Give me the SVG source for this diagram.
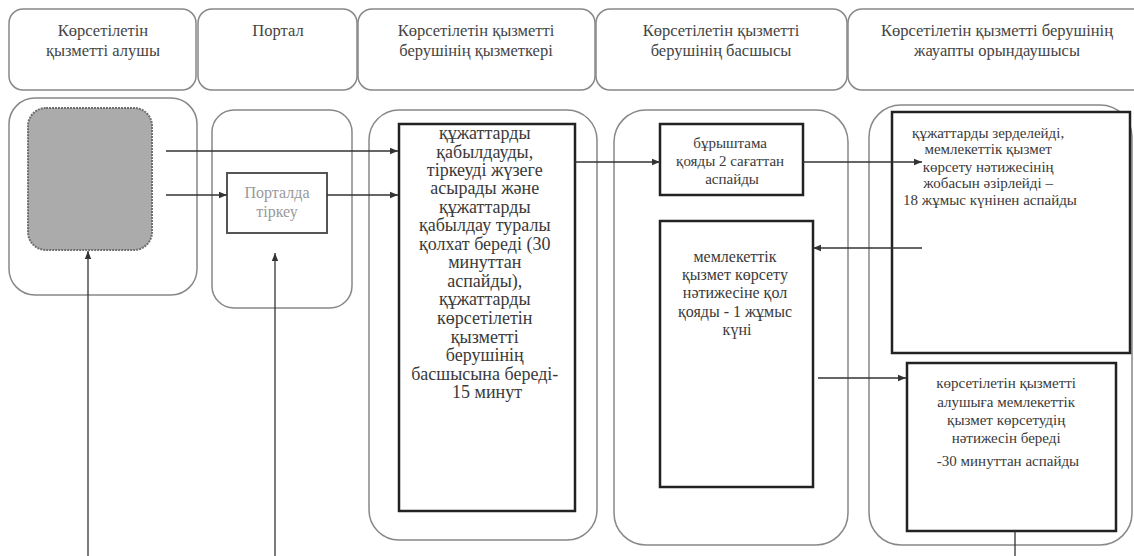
<svg xmlns="http://www.w3.org/2000/svg" width="1134" height="556" viewBox="0 0 1134 556">
<defs>
<marker id="ah" viewBox="0 0 10 10" refX="10" refY="5" markerWidth="8" markerHeight="8" markerUnits="userSpaceOnUse" orient="auto">
<path d="M0,1 L10,5 L0,9 z" fill="#333"/>
</marker>
</defs>
<style>
.hdr{fill:#fff;stroke:#888;stroke-width:1.5}
.lane{fill:#fff;stroke:#888;stroke-width:1.5}
.box{fill:#fff;stroke:#222;stroke-width:2.5}
.ht{font-family:"Liberation Serif","Times New Roman",serif;font-size:16.5px;fill:#444;text-anchor:middle}
.bt{font-family:"Liberation Serif","Times New Roman",serif;font-size:15px;fill:#3a3a3a;text-anchor:middle}
.big{font-size:18px}
.mid{font-size:16px}
.conn{stroke:#333;stroke-width:1.3;fill:none}
</style>
<rect width="1134" height="556" fill="#fff"/>
<g id="headers">
<rect class="hdr" x="9" y="9" width="187" height="81" rx="14"/>
<rect class="hdr" x="198" y="9" width="159" height="81" rx="14"/>
<rect class="hdr" x="358" y="9" width="237" height="81" rx="14"/>
<rect class="hdr" x="596" y="9" width="251" height="81" rx="14"/>
<rect class="hdr" x="848" y="9" width="300" height="81" rx="14"/>
<text class="ht" x="103" y="36">Көрсетілетін</text>
<text class="ht" x="103" y="56">қызметті алушы</text>
<text class="ht" x="278" y="36">Портал</text>
<text class="ht" x="476" y="36">Көрсетілетін қызметті</text>
<text class="ht" x="476" y="56">берушінің қызметкері</text>
<text class="ht" x="721" y="36">Көрсетілетін қызметті</text>
<text class="ht" x="721" y="56">берушінің басшысы</text>
<text class="ht" x="997" y="36">Көрсетілетін қызметті берушінің</text>
<text class="ht" x="997" y="56">жауапты орындаушысы</text>
</g>
<g id="lane1">
<rect class="lane" x="9" y="98" width="188" height="197" rx="26"/>
<rect x="28" y="108" width="124" height="142" rx="18" fill="#ababab" stroke="#6f6f6f" stroke-width="2" stroke-dasharray="2 1"/>
</g>
<g id="lane2">
<rect class="lane" x="212" y="110" width="140" height="198" rx="22"/>
<rect x="227" y="173" width="100" height="60" fill="#fff" stroke="#555" stroke-width="2"/>
<text class="bt" x="277" y="198" style="fill:#999;font-size:16px">Порталда</text>
<text class="bt" x="277" y="217" style="fill:#999;font-size:16px">тіркеу</text>
</g>
<g id="lane3">
<rect class="lane" x="369" y="110" width="228" height="430" rx="30"/>
<rect class="box" x="399" y="124" width="176" height="387"/>
<text class="bt big" x="487">
<tspan x="487" y="139">құжаттарды</tspan>
<tspan x="487" y="158">қабылдауды,</tspan>
<tspan x="487" y="176">тіркеуді  жүзеге</tspan>
<tspan x="487" y="194">асырады және</tspan>
<tspan x="487" y="213">құжаттарды</tspan>
<tspan x="487" y="231">қабылдау туралы</tspan>
<tspan x="487" y="250">қолхат береді (30</tspan>
<tspan x="487" y="268">минуттан</tspan>
<tspan x="487" y="287">аспайды),</tspan>
<tspan x="487" y="305">құжаттарды</tspan>
<tspan x="487" y="324">көрсетілетін</tspan>
<tspan x="487" y="343">қызметті</tspan>
<tspan x="487" y="361">берушінің</tspan>
<tspan x="487" y="380">басшысына береді-</tspan>
<tspan x="487" y="398">15 минут</tspan>
</text>
</g>
<g id="lane4">
<rect class="lane" x="614" y="110" width="234" height="435" rx="32"/>
<rect class="box" x="660" y="124" width="143" height="71"/>
<text class="bt" x="732">
<tspan x="732" y="148">бұрыштама</tspan>
<tspan x="732" y="166">қояды 2 сағаттан</tspan>
<tspan x="732" y="184">аспайды</tspan>
</text>
<rect class="box" x="660" y="221" width="153" height="266"/>
<text class="bt mid" x="737">
<tspan x="737" y="262">мемлекеттік</tspan>
<tspan x="737" y="280">қызмет көрсету</tspan>
<tspan x="737" y="298">нәтижесіне қол</tspan>
<tspan x="737" y="317">қояды - 1 жұмыс</tspan>
<tspan x="737" y="335">күні</tspan>
</text>
</g>
<g id="lane5">
<rect class="lane" x="869" y="105" width="263" height="440" rx="32"/>
<rect class="box" x="892" y="112" width="238" height="241"/>
<text class="bt" x="990">
<tspan x="990" y="138">құжаттарды зерделейді,</tspan>
<tspan x="990" y="154">мемлекеттік қызмет</tspan>
<tspan x="990" y="172">көрсету нәтижесінің</tspan>
<tspan x="990" y="188">жобасын әзірлейді –</tspan>
<tspan x="990" y="205">18 жұмыс күнінен аспайды</tspan>
</text>
<rect class="box" x="907" y="363" width="209" height="168"/>
<text class="bt" x="1008">
<tspan x="1008" y="388">көрсетілетін қызметті</tspan>
<tspan x="1008" y="407">алушыға мемлекеттік</tspan>
<tspan x="1008" y="425">қызмет көрсетудің</tspan>
<tspan x="1008" y="443">нәтижесін береді</tspan>
<tspan x="1008" y="466">-30 минуттан аспайды</tspan>
</text>
</g>
<g id="connectors">
<path class="conn" d="M166,151 H398" marker-end="url(#ah)"/>
<path class="conn" d="M166,195 H227" marker-end="url(#ah)"/>
<path class="conn" d="M327,195 H398" marker-end="url(#ah)"/>
<path class="conn" d="M575,162 H660" marker-end="url(#ah)"/>
<path class="conn" d="M803,162 H922" marker-end="url(#ah)"/>
<path class="conn" d="M922,248 H813" marker-end="url(#ah)"/>
<path class="conn" d="M818,378 H906" marker-end="url(#ah)"/>
<path class="conn" d="M88,556 V251" marker-end="url(#ah)"/>
<path class="conn" d="M275,556 V253" marker-end="url(#ah)"/>
<path class="conn" d="M1015,531 V556"/>
</g>
</svg>
